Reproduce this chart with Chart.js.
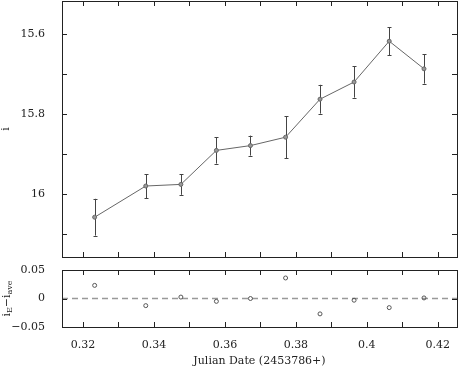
<!DOCTYPE html>
<html lang="en">
<head>
<meta charset="UTF-8">
<title>i-band light curve and residuals</title>
<script src="https://cdn.jsdelivr.net/npm/chart.js"></script>
<style>
  html, body { margin: 0; padding: 0; background: #fff; }
  #wrap { position: relative; width: 458px; height: 368px; }
  canvas { position: absolute; left: 0; }
  #magChart { top: 0; }
  #resChart { top: 258px; }
</style>
</head>
<body>
<div id="wrap">
  <canvas id="magChart" width="458" height="258"></canvas>
  <canvas id="resChart" width="458" height="110"></canvas>
</div>
<script>
  // observation times (JD - 2453786)
  const jd = [0.3233, 0.3377, 0.3476, 0.3576, 0.3672, 0.3771, 0.3868, 0.3964, 0.4063, 0.4161];
  // i magnitude and its error
  const iMag = [16.058, 15.980, 15.976, 15.891, 15.879, 15.858, 15.763, 15.720, 15.618, 15.687];
  const iErr = [0.046, 0.030, 0.026, 0.033, 0.025, 0.053, 0.036, 0.039, 0.035, 0.037];
  // residuals i_E - i_ave
  const resid = [0.023, -0.0125, 0.0025, -0.005, 0.0, 0.036, -0.027, -0.003, -0.016, 0.001];

  const xMin = 0.3141, xMax = 0.4254;
  const magMin = 15.5175, magMax = 16.1575;
  const resMin = -0.05, resMax = 0.05;

  const xTickValues = [0.32, 0.33, 0.34, 0.35, 0.36, 0.37, 0.38, 0.39, 0.40, 0.41, 0.42];
  const xTickLabels = ['0.32', '', '0.34', '', '0.36', '', '0.38', '', '0.4', '', '0.42'];
  const magTickValues = [15.6, 15.7, 15.8, 15.9, 16.0, 16.1];
  const magTickLabels = ['15.6', '', '15.8', '', '16', ''];
  const resTickValues = [-0.05, 0, 0.05];
  const resTickLabels = ['\u22120.05', '0', '0.05'];

  Chart.defaults.font.family = "'DejaVu Serif', serif";
  Chart.defaults.font.size = 11;
  Chart.defaults.color = '#222';

  const px = v => Math.round(v) + 0.5;

  // box around the plot with inward ticks on all four sides
  const framePlugin = {
    id: 'frame',
    afterDraw(chart) {
      const { ctx, chartArea: a, scales } = chart;
      const len = 5;
      ctx.save();
      ctx.strokeStyle = '#222';
      ctx.lineWidth = 1;
      ctx.strokeRect(px(a.left), px(a.top), Math.round(a.right - a.left), Math.round(a.bottom - a.top));
      ctx.beginPath();
      scales.x.ticks.forEach(t => {
        const x = px(scales.x.getPixelForValue(t.value));
        ctx.moveTo(x, a.top); ctx.lineTo(x, a.top + len);
        ctx.moveTo(x, a.bottom); ctx.lineTo(x, a.bottom - len);
      });
      scales.y.ticks.forEach(t => {
        const y = px(scales.y.getPixelForValue(t.value));
        ctx.moveTo(a.left, y); ctx.lineTo(a.left + len, y);
        ctx.moveTo(a.right, y); ctx.lineTo(a.right - len, y);
      });
      ctx.stroke();
      ctx.restore();
    }
  };

  const errorBarPlugin = {
    id: 'errorBars',
    beforeDatasetsDraw(chart) {
      const { ctx, scales: { x, y } } = chart;
      ctx.save();
      ctx.strokeStyle = '#444';
      ctx.lineWidth = 1;
      ctx.beginPath();
      jd.forEach((t, i) => {
        const cx = px(x.getPixelForValue(t));
        const y1 = y.getPixelForValue(iMag[i] - iErr[i]);
        const y2 = y.getPixelForValue(iMag[i] + iErr[i]);
        ctx.moveTo(cx, y1); ctx.lineTo(cx, y2);
        ctx.moveTo(cx - 2, px(y1)); ctx.lineTo(cx + 2, px(y1));
        ctx.moveTo(cx - 2, px(y2)); ctx.lineTo(cx + 2, px(y2));
      });
      ctx.stroke();
      ctx.restore();
    }
  };

  // y title with subscripts for the residual panel
  const resTitlePlugin = {
    id: 'resTitle',
    afterDraw(chart) {
      const { ctx, chartArea: a } = chart;
      const parts = [
        { t: 'i', size: 11, dy: 0 },
        { t: 'E', size: 8, dy: 3 },
        { t: '\u2212', size: 11, dy: 0 },
        { t: 'i', size: 11, dy: 0 },
        { t: 'ave', size: 8, dy: 3 }
      ];
      ctx.save();
      let total = 0;
      parts.forEach(p => {
        ctx.font = p.size + "px 'DejaVu Serif', serif";
        p.w = ctx.measureText(p.t).width;
        total += p.w;
      });
      ctx.translate(7, (a.top + a.bottom) / 2);
      ctx.rotate(-Math.PI / 2);
      ctx.fillStyle = '#222';
      ctx.textBaseline = 'middle';
      let cx = -total / 2;
      parts.forEach(p => {
        ctx.font = p.size + "px 'DejaVu Serif', serif";
        ctx.fillText(p.t, cx, p.dy);
        cx += p.w;
      });
      ctx.restore();
    }
  };

  const xScale = (showLabels, height) => ({
    type: 'linear',
    min: xMin,
    max: xMax,
    grid: { display: false },
    border: { display: false },
    afterBuildTicks: s => { s.ticks = xTickValues.map(v => ({ value: v })); },
    afterFit: s => { s.height = height; s.paddingLeft = 0; s.paddingRight = 0; },
    ticks: {
      display: showLabels,
      autoSkip: false,
      maxRotation: 0,
      padding: 4,
      callback: (v, i) => xTickLabels[i]
    }
  });

  const yFit = s => { s.width = 62; s.paddingTop = 0; s.paddingBottom = 0; };

  new Chart(document.getElementById('magChart'), {
    type: 'line',
    data: {
      datasets: [{
        data: jd.map((t, i) => ({ x: t, y: iMag[i] })),
        borderColor: '#666',
        borderWidth: 1,
        pointRadius: 2,
        pointBorderColor: '#666',
        pointBackgroundColor: '#999',
        pointBorderWidth: 1,
        tension: 0
      }]
    },
    options: {
      responsive: false,
      animation: false,
      events: [],
      layout: { autoPadding: false, padding: { top: 1, right: 1, bottom: 1, left: 0 } },
      plugins: { legend: { display: false }, tooltip: { enabled: false } },
      scales: {
        x: xScale(false, 0),
        y: {
          reverse: true,
          min: magMin,
          max: magMax,
          grid: { display: false },
          border: { display: false },
          afterBuildTicks: s => { s.ticks = magTickValues.map(v => ({ value: v })); },
          afterFit: yFit,
          ticks: { padding: 9, autoSkip: false, callback: (v, i) => magTickLabels[i] },
          title: { display: true, text: 'i', padding: 0, font: { size: 11 } }
        }
      }
    },
    plugins: [framePlugin, errorBarPlugin]
  });

  new Chart(document.getElementById('resChart'), {
    type: 'scatter',
    data: {
      datasets: [{
        data: jd.map((t, i) => ({ x: t, y: resid[i] })),
        showLine: false,
        pointRadius: 2,
        pointBorderColor: '#555',
        pointBackgroundColor: 'rgba(0,0,0,0)',
        pointBorderWidth: 1
      }, {
        data: [{ x: xMin, y: 0 }, { x: xMax, y: 0 }],
        showLine: true,
        borderColor: '#999',
        borderWidth: 1.5,
        borderDash: [6, 4],
        pointRadius: 0
      }]
    },
    options: {
      responsive: false,
      animation: false,
      events: [],
      layout: { autoPadding: false, padding: { top: 12, right: 1, bottom: 0, left: 0 } },
      plugins: { legend: { display: false }, tooltip: { enabled: false } },
      scales: {
        x: Object.assign(xScale(true, 41), {
          title: { display: true, text: 'Julian Date (2453786+)', padding: 0, font: { size: 11 } }
        }),
        y: {
          min: resMin,
          max: resMax,
          grid: { display: false },
          border: { display: false },
          afterBuildTicks: s => { s.ticks = resTickValues.map(v => ({ value: v })); },
          afterFit: yFit,
          ticks: { padding: 9, autoSkip: false, callback: (v, i) => resTickLabels[i] }
        }
      }
    },
    plugins: [framePlugin, resTitlePlugin]
  });
</script>
</body>
</html>
